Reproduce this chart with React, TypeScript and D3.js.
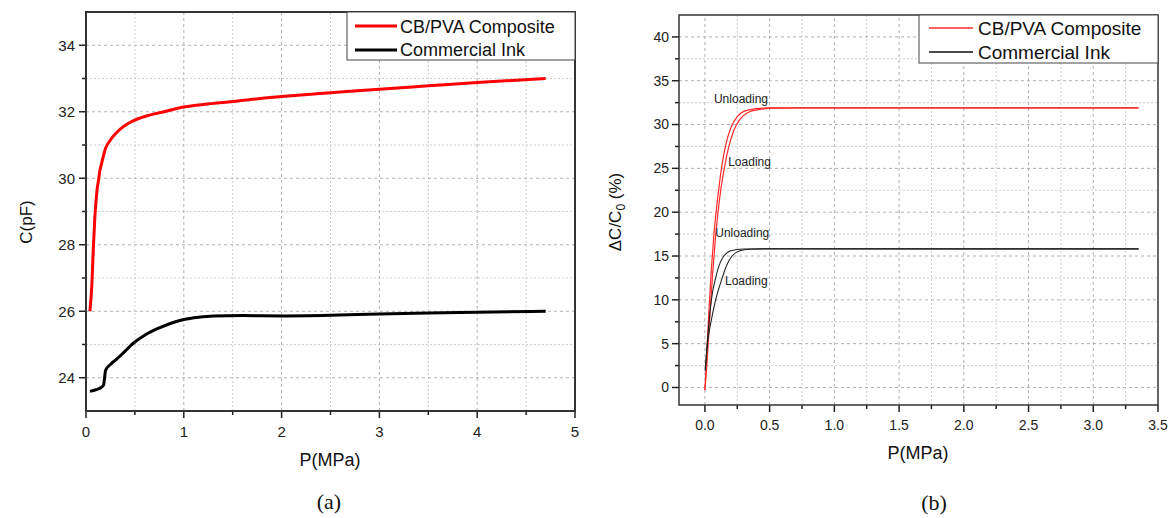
import React from "react";
import * as d3 from "d3";

// ---------- data ----------
// Panel (a): capacitance vs pressure
const aRedP = [0.04, 0.06, 0.075, 0.09, 0.105, 0.115, 0.126, 0.14, 0.16, 0.2, 0.25, 0.36, 0.5, 0.65, 0.8, 0.96, 1.2, 1.5, 2.0, 2.5, 3.0, 3.5, 4.0, 4.7];
const aRedC = [26.0, 26.8, 27.9, 28.8, 29.4, 29.7, 29.9, 30.2, 30.45, 30.9, 31.15, 31.5, 31.75, 31.9, 32.0, 32.12, 32.22, 32.31, 32.46, 32.57, 32.68, 32.78, 32.88, 33.0];
const aBlackP = [0.04, 0.1, 0.15, 0.18, 0.19, 0.2, 0.25, 0.31, 0.4, 0.48, 0.6, 0.75, 0.9, 1.0, 1.15, 1.3, 1.6, 2.0, 2.5, 3.0, 3.5, 4.0, 4.7];
const aBlackC = [23.59, 23.64, 23.7, 23.78, 24.0, 24.22, 24.4, 24.55, 24.8, 25.03, 25.28, 25.5, 25.67, 25.75, 25.82, 25.86, 25.87, 25.86, 25.88, 25.92, 25.95, 25.97, 26.0];
const aXTicks = [0, 1, 2, 3, 4, 5];
const aXMinor = [0.5, 1.5, 2.5, 3.5, 4.5];
const aYTicks = [24, 26, 28, 30, 32, 34];
const aYMinor = [25, 27, 29, 31, 33];

// Panel (b): relative change vs pressure (loading / unloading)
const bRedUnP = [0, 0.01, 0.03, 0.05, 0.07, 0.09, 0.11, 0.13, 0.16, 0.2, 0.25, 0.3, 0.38, 0.5, 0.7, 3.35];
const bRedUnV = [-0.3, 2.5, 8.5, 13.5, 17.5, 20.5, 23, 25.2, 27.6, 29.6, 30.9, 31.5, 31.78, 31.9, 31.9, 31.9];
const bRedLoP = [0, 0.015, 0.04, 0.06, 0.08, 0.1, 0.125, 0.15, 0.18, 0.22, 0.27, 0.33, 0.42, 0.55, 0.75, 3.35];
const bRedLoV = [-0.3, 2.5, 8.5, 13, 16.8, 19.8, 22.8, 25, 27.2, 29.2, 30.6, 31.35, 31.72, 31.87, 31.9, 31.9];
const bBlkUnP = [0.003, 0.018, 0.05, 0.083, 0.12, 0.147, 0.2, 0.3, 0.45, 3.35];
const bBlkUnV = [1.9, 5, 10, 12.5, 14.3, 15, 15.6, 15.8, 15.82, 15.82];
const bBlkLoP = [0.003, 0.02, 0.05, 0.083, 0.134, 0.17, 0.21, 0.27, 0.35, 0.5, 3.35];
const bBlkLoV = [1.9, 5, 7.7, 10, 12.5, 14, 15, 15.6, 15.78, 15.82, 15.82];
const bXTicks = [0, 0.5, 1, 1.5, 2, 2.5, 3, 3.5];
const bXMinor = [0.25, 0.75, 1.25, 1.75, 2.25, 2.75, 3.25];
const bYTicks = [0, 5, 10, 15, 20, 25, 30, 35, 40];
const bYMinor = [2.5, 7.5, 12.5, 17.5, 22.5, 27.5, 32.5, 37.5];

const seriesNames = ["CB/PVA Composite", "Commercial Ink"];
const annotations = [
  { text: "Unloading", p: 0.07, v: 32.5 },
  { text: "Loading", p: 0.18, v: 25.3 },
  { text: "Unloading", p: 0.08, v: 17.2 },
  { text: "Loading", p: 0.155, v: 11.7 },
];

const SANS = "'Liberation Sans', Arial, sans-serif";
const SERIF = "'Liberation Serif', 'Times New Roman', serif";

function zip(xs: number[], ys: number[]): [number, number][] {
  return xs.map((x, i) => [x, ys[i]]);
}

type PanelProps = {
  x: d3.ScaleLinear<number, number>;
  y: d3.ScaleLinear<number, number>;
  xTicks: number[];
  xMinor: number[];
  yTicks: number[];
  yMinor: number[];
  xFmt: (v: number) => string;
  tickFont: number;
  frameW: number;
  yLabOff: number;
  xLabOff: number;
};

function Frame({ x, y, xTicks, xMinor, yTicks, yMinor, xFmt, tickFont, frameW, yLabOff, xLabOff }: PanelProps) {
  const [x0, x1] = x.range();
  const [y0, y1] = y.range(); // y0 bottom, y1 top
  const inX = (v: number) => x(v) > x0 + 0.5 && x(v) < x1 - 0.5;
  const inY = (v: number) => y(v) < y0 - 0.5 && y(v) > y1 + 0.5;
  return (
    <g>
      {/* grid */}
      {xMinor.filter(inX).map((v) => (
        <line key={"gxm" + v} x1={x(v)} x2={x(v)} y1={y0} y2={y1} stroke="#cfcfcf" strokeWidth={1} strokeDasharray="2,2" />
      ))}
      {yMinor.filter(inY).map((v) => (
        <line key={"gym" + v} x1={x0} x2={x1} y1={y(v)} y2={y(v)} stroke="#cfcfcf" strokeWidth={1} strokeDasharray="2,2" />
      ))}
      {xTicks.filter(inX).map((v) => (
        <line key={"gx" + v} x1={x(v)} x2={x(v)} y1={y0} y2={y1} stroke="#b0b0b0" strokeWidth={1} strokeDasharray="3,3" />
      ))}
      {yTicks.filter(inY).map((v) => (
        <line key={"gy" + v} x1={x0} x2={x1} y1={y(v)} y2={y(v)} stroke="#b0b0b0" strokeWidth={1} strokeDasharray="3,3" />
      ))}
      {/* ticks */}
      {xTicks.map((v) => (
        <g key={"tx" + v}>
          <line x1={x(v)} x2={x(v)} y1={y0} y2={y0 + 7} stroke="#222" strokeWidth={1.5} />
          <text x={x(v)} y={y0 + xLabOff} textAnchor="middle" fontFamily={SANS} fontSize={tickFont} fill="#222">
            {xFmt(v)}
          </text>
        </g>
      ))}
      {xMinor.map((v) => (
        <line key={"txm" + v} x1={x(v)} x2={x(v)} y1={y0} y2={y0 + 4} stroke="#222" strokeWidth={1.5} />
      ))}
      {yTicks.map((v) => (
        <g key={"ty" + v}>
          <line x1={x0} x2={x0 - 7} y1={y(v)} y2={y(v)} stroke="#222" strokeWidth={1.5} />
          <text x={x0 - yLabOff} y={y(v) + tickFont * 0.35} textAnchor="end" fontFamily={SANS} fontSize={tickFont} fill="#222">
            {v}
          </text>
        </g>
      ))}
      {yMinor.map((v) => (
        <line key={"tym" + v} x1={x0} x2={x0 - 4} y1={y(v)} y2={y(v)} stroke="#222" strokeWidth={1.5} />
      ))}
      <rect x={x0} y={y1} width={x1 - x0} height={y0 - y1} fill="none" stroke="#333" strokeWidth={frameW} />
    </g>
  );
}

export default function App() {
  // Panel (a)
  const ax = d3.scaleLinear().domain([0, 5]).range([86, 575]);
  const ay = d3.scaleLinear().domain([23, 35]).range([411, 12]);
  // Panel (b)
  const bx = d3.scaleLinear().domain([-0.2, 3.5]).range([679, 1158]);
  const by = d3.scaleLinear().domain([-2, 42.5]).range([405, 15]);

  const la = d3.line<[number, number]>().x((d) => ax(d[0])).y((d) => ay(d[1])).curve(d3.curveMonotoneX);
  const lb = d3.line<[number, number]>().x((d) => bx(d[0])).y((d) => by(d[1])).curve(d3.curveMonotoneX);

  const fmt1 = d3.format(".1f");

  return (
    <svg width={1173} height={518} style={{ position: "absolute", left: 0, top: 0, background: "#fff" }}>
      <rect x={0} y={0} width={1173} height={518} fill="#fff" />

      {/* ---------- Panel (a) ---------- */}
      <Frame x={ax} y={ay} xTicks={aXTicks} xMinor={aXMinor} yTicks={aYTicks} yMinor={aYMinor}
        xFmt={(v) => String(v)} tickFont={15} frameW={2} yLabOff={11} xLabOff={26} />
      <path d={la(zip(aRedP, aRedC)) || ""} fill="none" stroke="#ff0000" strokeWidth={3} strokeLinejoin="round" />
      <path d={la(zip(aBlackP, aBlackC)) || ""} fill="none" stroke="#000" strokeWidth={3} strokeLinejoin="round" />
      {/* legend (a) */}
      <rect x={347} y={12} width={228} height={48} fill="#fff" stroke="#444" strokeWidth={1} />
      <line x1={355} x2={397} y1={26} y2={26} stroke="#ff0000" strokeWidth={3} />
      <line x1={355} x2={397} y1={50} y2={50} stroke="#000" strokeWidth={3} />
      <text x={400} y={33} fontFamily={SANS} fontSize={18} fill="#111">{seriesNames[0]}</text>
      <text x={400} y={56} fontFamily={SANS} fontSize={18} fill="#111">{seriesNames[1]}</text>
      {/* axis titles (a) */}
      <text transform="translate(32,222) rotate(-90)" textAnchor="middle" fontFamily={SANS} fontSize={17} fill="#111">C(pF)</text>
      <text x={330} y={466} textAnchor="middle" fontFamily={SANS} fontSize={18} fill="#111">P(MPa)</text>
      <text x={329} y={509} textAnchor="middle" fontFamily={SERIF} fontSize={22} fill="#111">(a)</text>

      {/* ---------- Panel (b) ---------- */}
      <Frame x={bx} y={by} xTicks={bXTicks} xMinor={bXMinor} yTicks={bYTicks} yMinor={bYMinor}
        xFmt={(v) => fmt1(v)} tickFont={14} frameW={1.5} yLabOff={10} xLabOff={25} />
      <path d={lb(zip(bRedUnP, bRedUnV)) || ""} fill="none" stroke="#ff2a2a" strokeWidth={1.2} />
      <path d={lb(zip(bRedLoP, bRedLoV)) || ""} fill="none" stroke="#ff2a2a" strokeWidth={1.2} />
      <path d={lb(zip(bBlkUnP, bBlkUnV)) || ""} fill="none" stroke="#222" strokeWidth={1.1} />
      <path d={lb(zip(bBlkLoP, bBlkLoV)) || ""} fill="none" stroke="#222" strokeWidth={1.1} />
      {annotations.map((a, i) => (
        <text key={"an" + i} x={bx(a.p)} y={by(a.v)} fontFamily={SANS} fontSize={12} fill="#222">{a.text}</text>
      ))}
      {/* legend (b) */}
      <rect x={919} y={15} width={239} height={48} fill="#fff" stroke="#444" strokeWidth={1} />
      <line x1={929} x2={973} y1={28} y2={28} stroke="#ff2a2a" strokeWidth={1.5} />
      <line x1={929} x2={973} y1={52} y2={52} stroke="#111" strokeWidth={1.5} />
      <text x={978} y={35} fontFamily={SANS} fontSize={19} fill="#111">{seriesNames[0]}</text>
      <text x={978} y={59} fontFamily={SANS} fontSize={19} fill="#111">{seriesNames[1]}</text>
      {/* axis titles (b) */}
      <text transform="translate(621,212) rotate(-90)" textAnchor="middle" fontFamily={SANS} fontSize={17} fill="#111">
        ΔC/C<tspan fontSize={12} dy={4}>0</tspan><tspan dy={-4}> (%)</tspan>
      </text>
      <text x={918} y={459} textAnchor="middle" fontFamily={SANS} fontSize={18} fill="#111">P(MPa)</text>
      <text x={934} y={510} textAnchor="middle" fontFamily={SERIF} fontSize={22} fill="#111">(b)</text>
    </svg>
  );
}
